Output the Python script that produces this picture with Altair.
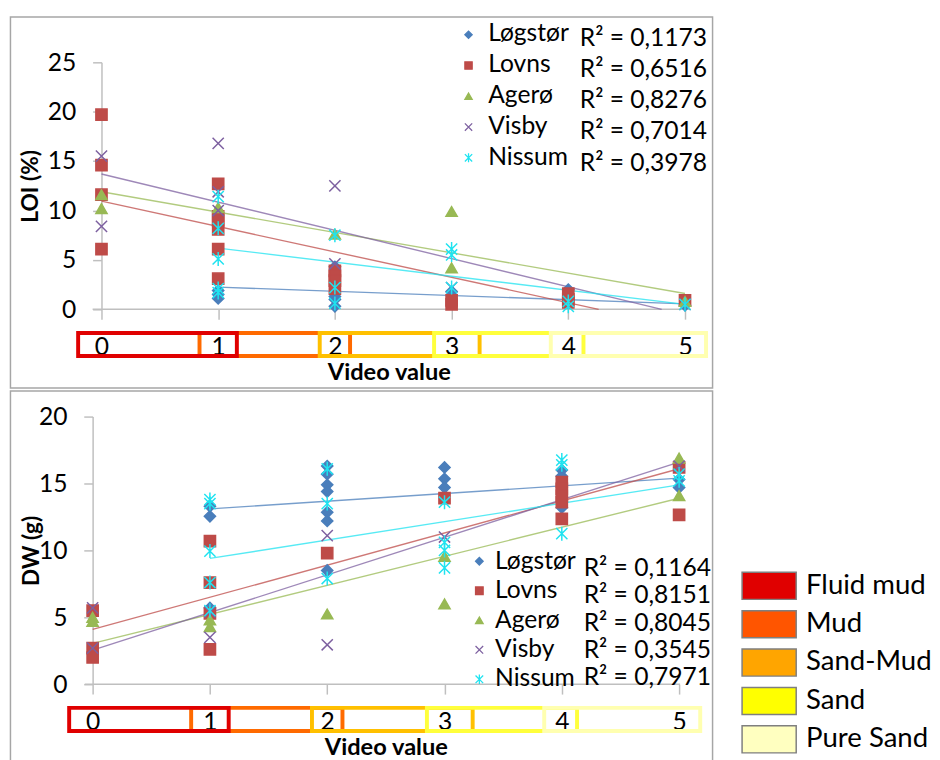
import altair as alt
import pandas as pd

FONT = "Lato"
AXIS_GRAY = "#BFBFBF"
FRAME_GRAY = "#A6A6A6"

SERIES = ["Løgstør", "Lovns", "Agerø", "Visby", "Nissum"]
SERIES_COLORS = ["#4A7EBB", "#BE4B48", "#98B954", "#7D60A0", "#1FE3F0"]
X_PATH = "M-1,-1L1,1M-1,1L1,-1"
STAR_PATH = "M-1,-1L1,1M-1,1L1,-1M0,-1.25L0,1.25"
SERIES_SHAPES = ["diamond", "square", "triangle-up", X_PATH, STAR_PATH]

# ---------------- LOI (%) panel ----------------
loi_logstor_x = [1, 1, 1, 2, 2, 2, 2, 3, 4, 5]
loi_logstor_y = [1.9, 1.5, 1.1, 4.3, 1.3, 1.0, 0.3, 1.8, 2.0, 0.4]
loi_lovns_x = [0, 0, 0, 0, 1, 1, 1, 1, 1, 1, 2, 2, 2, 2, 3, 3, 4, 4, 4, 5]
loi_lovns_y = [19.7, 14.6, 11.6, 6.1, 12.7, 9.4, 9.0, 8.1, 6.1, 3.1,
               3.9, 3.4, 2.9, 2.1, 0.9, 0.5, 1.6, 1.0, 0.7, 0.9]
loi_agero_x = [0, 0, 1, 2, 3, 3, 5]
loi_agero_y = [11.6, 10.2, 10.3, 7.6, 9.9, 4.2, 0.8]
loi_visby_x = [0, 0, 1, 1, 1, 2, 2, 3, 5]
loi_visby_y = [15.5, 8.4, 16.8, 11.9, 10.0, 12.5, 4.6, 2.2, 0.5]
loi_nissum_x = [1, 1, 1, 1, 1, 2, 2, 2, 3, 3, 3, 4, 4, 5]
loi_nissum_y = [11.4, 8.2, 5.1, 2.1, 1.7, 7.5, 2.2, 0.6, 6.1, 5.5, 2.2, 0.8, 0.3, 0.5]

# trend lines: start / end points
loi_trend_x0 = [1, 0, 0, 0, 1]
loi_trend_y0 = [2.25, 10.95, 11.9, 13.7, 6.2]
loi_trend_x1 = [5, 4.26, 5, 4.8, 5]
loi_trend_y1 = [0.55, 0.0, 1.6, 0.0, 0.5]
loi_r2 = ["0,1173", "0,6516", "0,8276", "0,7014", "0,3978"]

# ---------------- DW (g) panel ----------------
dw_logstor_x = [1, 1, 1, 2, 2, 2, 2, 2, 2, 2, 3, 3, 3, 4, 4, 4, 5, 5]
dw_logstor_y = [13.3, 12.55, 5.7, 16.3, 15.7, 14.9, 14.4, 12.85, 12.2, 8.5,
                16.2, 15.35, 14.7, 16.0, 15.55, 13.2, 15.3, 14.7]
dw_lovns_x = [0, 0, 0, 1, 1, 1, 1, 2, 3, 4, 4, 4, 4, 4, 5, 5]
dw_lovns_y = [5.5, 2.7, 2.0, 10.7, 7.6, 5.3, 2.6, 9.8, 13.9,
              15.1, 14.6, 14.1, 13.6, 12.35, 16.2, 12.65]
dw_agero_x = [0, 0, 1, 1, 2, 3, 3, 5, 5]
dw_agero_y = [5.0, 4.7, 4.8, 4.3, 5.25, 9.55, 6.0, 16.9, 14.1]
dw_visby_x = [0, 0, 1, 1, 2, 2, 3, 5]
dw_visby_y = [5.7, 2.7, 5.4, 3.5, 11.1, 2.95, 11.0, 16.3]
dw_nissum_x = [1, 1, 1, 1, 1, 2, 2, 2, 3, 3, 3, 3, 4, 4, 4, 5, 5]
dw_nissum_y = [13.8, 13.5, 9.95, 7.6, 5.5, 16.1, 13.5, 7.9,
               13.6, 10.6, 10.0, 8.7, 16.75, 16.4, 11.25, 15.7, 15.2]

dw_trend_x0 = [1, 0, 0, 0, 1]
dw_trend_y0 = [13.1, 4.1, 3.05, 2.55, 9.4]
dw_trend_x1 = [5, 5, 5, 5, 5]
dw_trend_y1 = [15.4, 16.1, 13.9, 16.6, 14.9]
dw_r2 = ["0,1164", "0,8151", "0,8045", "0,3545", "0,7971"]

# ---------------- sediment classes ----------------
SED_CLASSES = ["Fluid mud", "Mud", "Sand-Mud", "Sand", "Pure Sand"]
SED_FILL = ["#E00000", "#FF5500", "#FFA500", "#FFFF00", "#FFFFC0"]
SED_EDGE = ["#E00000", "#FF6A00", "#FFC000", "#FFFF3C", "#FFFFB0"]
SED_START = [-0.2, 0.84, 1.87, 2.85, 3.85]
SED_END = [1.16, 2.13, 3.24, 4.13, 5.18]
SED_DRAW_ORDER = [1, 0, 2, 3, 4]


def series_df(xs_list, ys_list):
    rows = []
    for name, xs, ys in zip(SERIES, xs_list, ys_list):
        rows += [{"series": name, "x": x, "y": y} for x, y in zip(xs, ys)]
    return pd.DataFrame(rows)


def trend_df(x0, y0, x1, y1):
    rows = []
    for i, name in enumerate(SERIES):
        rows.append({"series": name, "x": x0[i], "y": y0[i]})
        rows.append({"series": name, "x": x1[i], "y": y1[i]})
    return pd.DataFrame(rows)


sed_df = pd.DataFrame({"sed": SED_CLASSES, "start": SED_START, "end": SED_END,
                       "edge": SED_EDGE, "fill": SED_FILL})
strip_df = sed_df.iloc[SED_DRAW_ORDER].reset_index(drop=True)

color_scale = alt.Scale(domain=SERIES, range=SERIES_COLORS)
shape_scale = alt.Scale(domain=SERIES, range=SERIES_SHAPES)

LABEL_FS = 25
LEG_FS = 25


def panel(pts, trend, r2, ytitle, ymax, xmin, width, height, y_off, y_title_x,
          rule_span, frame, leg, add_sed=False):
    xs = alt.Scale(domain=[xmin, 5], nice=False, zero=False)
    xaxis = alt.Axis(values=[0, 1, 2, 3, 4, 5], format="d", domain=False, grid=False,
                     tickSize=10, tickColor=AXIS_GRAY, tickWidth=1.5,
                     labelFontSize=LABEL_FS, labelPadding=15.5, labelColor="black",
                     labelFlush=False, labelOverlap=False,
                     title="Video value", titleFontSize=24, titleFontWeight="bold",
                     titleColor="black", titleY=64, titleBaseline="middle")
    ys = alt.Scale(domain=[0, ymax], nice=False, zero=True)
    yaxis = alt.Axis(values=list(range(0, ymax + 1, 5)), grid=False, offset=y_off,
                     domainColor=AXIS_GRAY, domainWidth=1.5,
                     tickColor=AXIS_GRAY, tickWidth=1.5, tickSize=9,
                     labelFontSize=LABEL_FS, labelPadding=17, labelColor="black",
                     title=ytitle, titleFontSize=23, titleFontWeight="bold",
                     titleColor="black", titleX=y_title_x, titleY=height / 2,
                     titleBaseline="middle")

    fx0, fx1, fy0, fy1 = frame
    frame_l = alt.Chart(pd.DataFrame({"k": [0]})).mark_rect(
        fillOpacity=0, stroke=FRAME_GRAY, strokeWidth=1.5).encode(
        x=alt.value(fx0), x2=alt.value(fx1), y=alt.value(fy0), y2=alt.value(fy1))

    strips = alt.Chart(strip_df).mark_rect(fillOpacity=0, strokeWidth=4).encode(
        x=alt.X("start:Q", scale=xs, axis=xaxis), x2="end:Q",
        y=alt.value(height + 24), y2=alt.value(height + 47.5),
        stroke=alt.Stroke("edge:N", scale=None))

    axis_rule = alt.Chart(pd.DataFrame({"k": [0]})).mark_rule(
        color=AXIS_GRAY, strokeWidth=1.5).encode(
        x=alt.value(rule_span[0]), x2=alt.value(rule_span[1]), y=alt.value(height))

    lines = alt.Chart(trend).mark_line(strokeWidth=1.4, opacity=0.75).encode(
        x=alt.X("x:Q", scale=xs, axis=xaxis),
        y=alt.Y("y:Q", scale=ys, axis=yaxis),
        stroke=alt.Stroke("series:N", scale=color_scale, legend=None),
        detail="series:N")

    points = alt.Chart(pts).mark_point(filled=True, opacity=1, strokeWidth=1.5).encode(
        x=alt.X("x:Q", scale=xs, axis=xaxis),
        y=alt.Y("y:Q", scale=ys, axis=yaxis),
        shape=alt.Shape("series:N", scale=shape_scale, legend=None),
        fill=alt.Fill("series:N", scale=color_scale, legend=None),
        stroke=alt.Stroke("series:N", scale=color_scale, legend=None),
        size=alt.value(130))

    main = alt.layer(frame_l, strips, axis_rule, lines, points)

    leg_df = pd.DataFrame({"series": SERIES, "r2": ["R² = " + v for v in r2]})
    sym_x, sym_rng, name_x, name_rng, r2_x, r2_rng, sym_size, fs = leg

    def yleg(rng):
        return alt.Y("series:N", axis=None,
                     scale=alt.Scale(type="point", domain=SERIES, range=rng, padding=0))

    sym = alt.Chart(leg_df).mark_point(filled=True, opacity=1, strokeWidth=1.3).encode(
        x=alt.value(sym_x), y=yleg(sym_rng),
        shape=alt.Shape("series:N", scale=shape_scale, legend=None),
        fill=alt.Fill("series:N", scale=color_scale, legend=None),
        stroke=alt.Stroke("series:N", scale=color_scale, legend=None),
        size=alt.value(sym_size))
    names = alt.Chart(leg_df).mark_text(align="left", baseline="middle",
                                        fontSize=fs, color="black").encode(
        x=alt.value(name_x), y=yleg(name_rng), text="series:N")
    r2t = alt.Chart(leg_df).mark_text(align="left", baseline="middle",
                                      fontSize=fs, color="black").encode(
        x=alt.value(r2_x), y=yleg(r2_rng), text="r2:N")

    layers = [main, sym, names, r2t]
    if add_sed:
        ysed = alt.Y("sed:N", axis=None,
                     scale=alt.Scale(type="point", domain=SED_CLASSES,
                                     range=[172, 328], padding=0))
        swatch = alt.Chart(sed_df).mark_point(
            shape="M-1,-0.5H1V0.5H-1Z", filled=True, opacity=1, size=3025,
            stroke="#7F7F7F", strokeWidth=1.5).encode(
            x=alt.value(687.5), y=ysed, fill=alt.Fill("fill:N", scale=None))
        sed_text = alt.Chart(sed_df).mark_text(
            align="left", baseline="middle", fontSize=28, color="black").encode(
            x=alt.value(725), y=ysed, text="sed:N")
        layers.append(alt.layer(swatch, sed_text))

    return alt.layer(*layers).resolve_scale(y="independent").properties(
        width=width, height=height)


loi_pts = series_df([loi_logstor_x, loi_lovns_x, loi_agero_x, loi_visby_x, loi_nissum_x],
                    [loi_logstor_y, loi_lovns_y, loi_agero_y, loi_visby_y, loi_nissum_y])
dw_pts = series_df([dw_logstor_x, dw_lovns_x, dw_agero_x, dw_visby_x, dw_nissum_x],
                   [dw_logstor_y, dw_lovns_y, dw_agero_y, dw_visby_y, dw_nissum_y])

# Both plot areas start at page x = 93; the LOI panel's zero sits 9 px further right.
top = panel(loi_pts, trend_df(loi_trend_x0, loi_trend_y0, loi_trend_x1, loi_trend_y1),
            loi_r2, "LOI (%)", 25, -9 / 118.6, 602, 251, -9, -72, (0, 607),
            (-83.5, 630, -46, 331),
            (382, [-28, 97], 402, [-30, 96], 495, [-25, 102], 55, LEG_FS))
bottom = panel(dw_pts, trend_df(dw_trend_x0, dw_trend_y0, dw_trend_x1, dw_trend_y1),
               dw_r2, "DW (g)", 20, 0, 596, 272, 0, -62, (-8, 597),
               (-83.5, 630, -26, 356),
               (393, [147, 267], 409, [147, 266], 499, [154, 265], 60, LEG_FS),
               add_sed=True)

chart = alt.vconcat(top, bottom, spacing=1).properties(
    padding={"left": 1, "top": 2, "right": 0, "bottom": 0}
).configure(font=FONT).configure_view(stroke=None)

chart.save("out.html", embed_options={"renderer": "svg", "actions": False})
